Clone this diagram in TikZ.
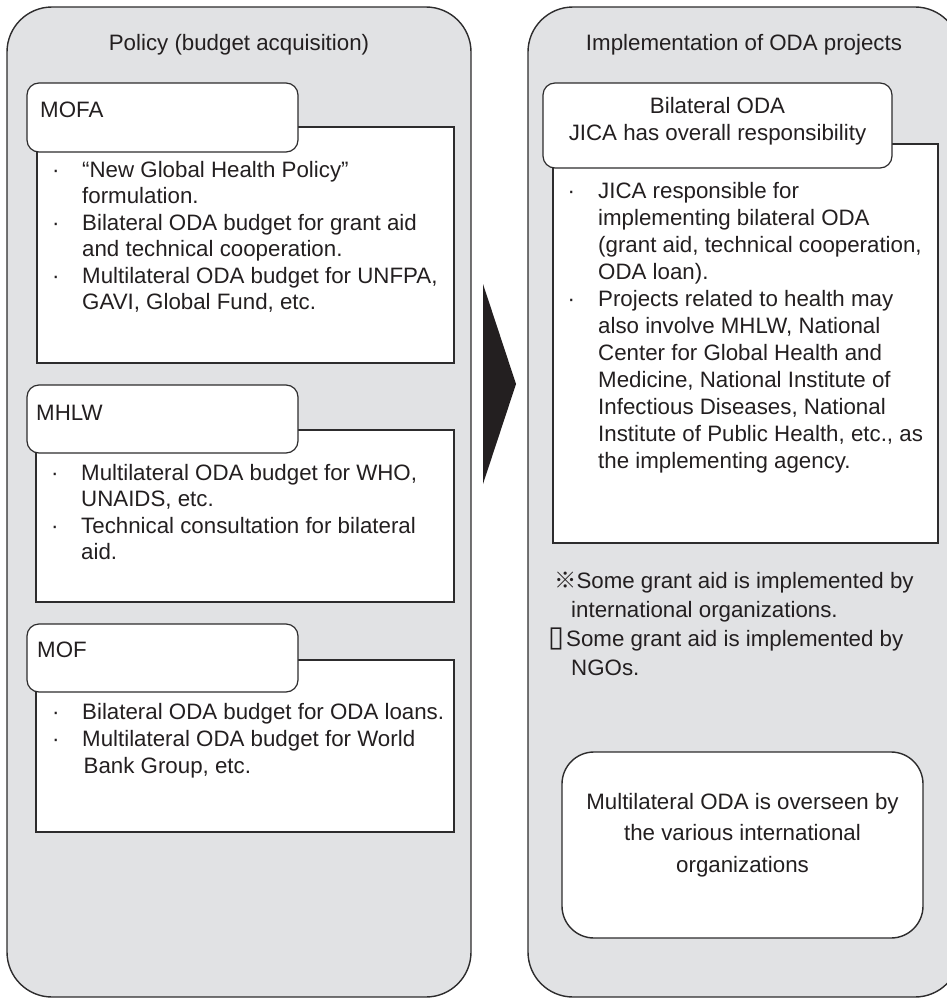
\documentclass[tikz,border=0pt]{standalone}
\usepackage{fontspec}
\setmainfont{Liberation Sans}
\newfontfamily\cjkfont{Noto Sans CJK JP}
\newfontfamily\symfont{DejaVu Sans}
\usetikzlibrary{positioning}

\definecolor{panelgray}{RGB}{225,226,228}
\definecolor{linegray}{RGB}{45,44,45}
\definecolor{inkblack}{RGB}{35,31,32}

% bullet list with hanging text
\newcommand{\blist}[2][30pt]{\begin{tabular}[t]{@{}p{#1}@{}l@{}}#2\end{tabular}}
\newcommand{\bul}{·}

\begin{document}
\begin{tikzpicture}[x=1pt,y=-1pt,
  font=\fontsize{22.3}{26.5}\selectfont,text=inkblack,
  panel/.style={draw=linegray,line width=1.4pt,fill=panelgray,rounded corners=45pt},
  bodybox/.style={draw=linegray,line width=1.4pt,fill=white},
  tabbox/.style={draw=linegray,line width=1.2pt,fill=white,rounded corners=12pt},
  txt/.style={inner sep=0pt,anchor=base west},
  ctxt/.style={inner sep=0pt,anchor=base}]
\useasboundingbox (0,0) rectangle (947,998);

\node[panel,minimum width=464pt,minimum height=990pt] (policy) at (239,502) {};
\node[panel,minimum width=432pt,minimum height=990pt] (impl) at (744,502) {};
\fill[inkblack] (483,284) -- (516,384) -- (483,484) -- cycle;

\node[ctxt] (policytitle) at (239,51) {Policy (budget acquisition)};
\node[ctxt] (impltitle) at (744,51) {Implementation of ODA projects};

% MOFA
\node[bodybox,minimum width=417pt,minimum height=236pt] (mofabody) at (245.5,245) {};
\node[tabbox,minimum width=271pt,minimum height=69pt] (mofatab) at (162.5,117.5) {};
\node[txt] (mofa) at (40,117) {MOFA};
\node[txt] (mofalist) at (52,177) {\blist{%
 \bul & “New Global Health Policy”\\
      & formulation.\\
 \bul & Bilateral ODA budget for grant aid\\
      & and technical cooperation.\\
 \bul & Multilateral ODA budget for UNFPA,\\
      & GAVI, Global Fund, etc.}};

% MHLW
\node[bodybox,minimum width=418pt,minimum height=172pt] (mhlwbody) at (245,516) {};
\node[tabbox,minimum width=271pt,minimum height=68pt] (mhlwtab) at (162.5,419) {};
\node[txt] (mhlw) at (36,420) {MHLW};
\node[txt] (mhlwlist) at (51,480) {\blist{%
 \bul & Multilateral ODA budget for WHO,\\
      & UNAIDS, etc.\\
 \bul & Technical consultation for bilateral\\
      & aid.}};

% MOF
\node[bodybox,minimum width=418pt,minimum height=172pt] (mofbody) at (245,746) {};
\node[tabbox,minimum width=271pt,minimum height=68pt] (moftab) at (162.5,658) {};
\node[txt] (mof) at (37,657) {MOF};
\node[txt,font=\fontsize{22.3}{27}\selectfont] (moflist) at (52,719) {\blist{%
 \bul & Bilateral ODA budget for ODA loans.\\
 \bul & Multilateral ODA budget for World\\
      & \hspace*{1.5pt}Bank Group, etc.}};

% JICA
\node[bodybox,minimum width=385pt,minimum height=399pt] (jicabody) at (745.5,343.5) {};
\node[tabbox,minimum width=349pt,minimum height=85pt] (jicatab) at (717.5,125.5) {};
\node[ctxt,font=\fontsize{22.3}{28}\selectfont] (jica) at (717.5,113)
 {\begin{tabular}[t]{@{}c@{}}Bilateral ODA\\JICA has overall responsibility\end{tabular}};
\node[txt,font=\fontsize{22.3}{27}\selectfont] (jicalist) at (567.5,198) {\blist[30.5pt]{%
 \bul & JICA responsible for\\
      & implementing bilateral ODA\\
      & (grant aid, technical cooperation,\\
      & ODA loan).\\
 \bul & Projects related to health may\\
      & also involve MHLW, National\\
      & Center for Global Health and\\
      & Medicine, National Institute of\\
      & Infectious Diseases, National\\
      & Institute of Public Health, etc., as\\
      & the implementing agency.}};

\node[txt,font=\fontsize{22.3}{29.3}\selectfont] (notes) at (554,588)
 {\begin{tabular}[t]{@{}l@{}}%
  {\cjkfont ※}Some grant aid is implemented by\\
  \hspace*{17pt}international organizations.\\
  \hspace*{-6pt}{\symfont\fontsize{29}{20}\selectfont ▯}\hspace{2pt}Some grant aid is implemented by\\
  \hspace*{17pt}NGOs.\end{tabular}};

% multilateral
\node[bodybox,rounded corners=32pt,minimum width=361pt,minimum height=186pt] (multibox) at (742.5,845) {};
\node[ctxt,font=\fontsize{22.3}{31.5}\selectfont] (multi) at (742.5,809)
 {\begin{tabular}[t]{@{}c@{}}Multilateral ODA is overseen by\\the various international\\organizations\end{tabular}};
\end{tikzpicture}
\end{document}
